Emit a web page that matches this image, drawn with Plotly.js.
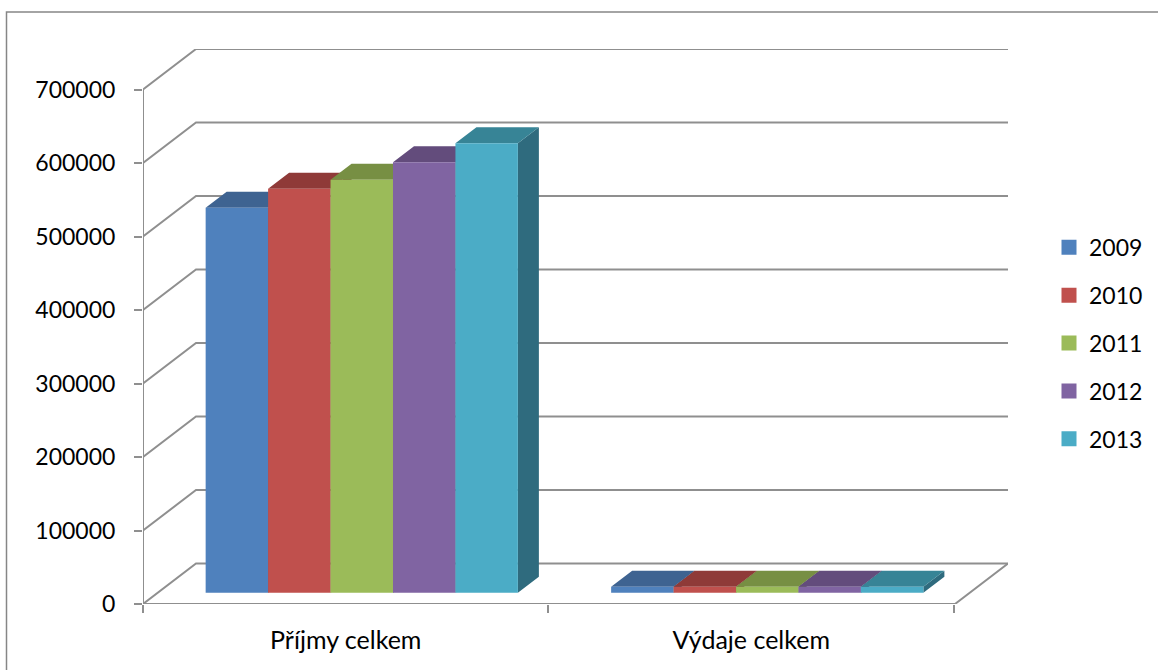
<!DOCTYPE html>
<html>
<head>
<meta charset="utf-8">
<script src="https://cdn.plot.ly/plotly-3.0.1.min.js"></script>
<style>html,body{margin:0;padding:0;background:#fff}#chart{width:1158px;height:670px}</style>
</head>
<body>
<div id="chart"></div>
<script>
// Income and expense totals per year
const categories = ['Příjmy celkem', 'Výdaje celkem'];
const years = ['2009', '2010', '2011', '2012', '2013'];
const values2009 = [523600, 8000];
const values2010 = [549500, 8000];
const values2011 = [561700, 8000];
const values2012 = [585600, 8000];
const values2013 = [611400, 8000];
const seriesValues = [values2009, values2010, values2011, values2012, values2013];

// Palette: front faces, top faces, side faces
const frontColors = ['#4f81bd', '#c0504d', '#9bbb59', '#8064a2', '#4bacc6'];
const topColors = ['#3e6391', '#8f3a38', '#778f43', '#634c7c', '#378496'];
const sideColors = ['#2f4d72', '#70302e', '#5d7034', '#4c3a60', '#2f6b7e'];
const gridColor = '#8f8f8f';
const yTicks = [0, 100000, 200000, 300000, 400000, 500000, 600000, 700000];

// Oblique projection, in axis units
const xMax = 2.1332, yMax = 755100;
const wallDx = 0.1307, wallDy = 55100;   // floor depth
const barDx = 0.0518, barDy = 21770;     // bar depth
const barLift = 15400;                   // bars stand slightly back on the floor
const barShift = 0.0395;                 // bars centre on the floor, not the front edge
const barGap = 0.23;
const barWidth = (1 - barGap) / years.length;

const font = 'Lato, "Open Sans", sans-serif';
const traces = [];

// Side wall, back wall and floor lines
const gridX = [], gridY = [];
yTicks.forEach(v => {
  gridX.push(0, wallDx, xMax, null);
  gridY.push(v, v + wallDy, v + wallDy, null);
});
gridX.push(0, 0, null, 0, xMax - wallDx, xMax);
gridY.push(0, yTicks[yTicks.length - 1], null, 0, 0, wallDy);
traces.push({type: 'scatter', mode: 'lines', x: gridX, y: gridY, cliponaxis: false,
  line: {color: gridColor, width: 2}, showlegend: false, hoverinfo: 'skip'});

// Extruded faces of every bar, computed from its value
function faces(build, colors) {
  years.forEach((year, s) => {
    const xs = [], ys = [];
    categories.forEach((c, k) => {
      const left = k + 0.5 + barShift - (years.length / 2 - s) * barWidth;
      const top = seriesValues[s][k] + barLift;
      build(left, left + barWidth, top).forEach(p => { xs.push(p[0]); ys.push(p[1]); });
      xs.push(null); ys.push(null);
    });
    traces.push({type: 'scatter', mode: 'lines', x: xs, y: ys, fill: 'toself', fillcolor: colors[s],
      line: {width: 0, color: colors[s]}, showlegend: false, hoverinfo: 'skip', cliponaxis: false});
  });
}
faces((l, r, t) => [[r, t], [r + barDx, t + barDy], [r + barDx, barLift + barDy], [r, barLift], [r, t]], sideColors);
faces((l, r, t) => [[l, t], [r, t], [r + barDx, t + barDy], [l + barDx, t + barDy], [l, t]], topColors);

// Front faces on the overlay axes so they hide the faces behind them
years.forEach((year, s) => {
  traces.push({type: 'bar', name: year, xaxis: 'x2', yaxis: 'y2',
    x: categories.map((c, k) => k + 0.5 + barShift),
    y: seriesValues[s], base: barLift, marker: {color: frontColors[s], line: {width: 0}},
    showlegend: false, hovertemplate: year + ': %{y}<extra></extra>'});
});

// Legend keys
years.forEach((year, s) => {
  traces.push({type: 'scatter', mode: 'markers', name: year, xaxis: 'x2', yaxis: 'y2',
    x: [null], y: [null], legendgroup: year,
    marker: {symbol: 'square', size: 15, color: frontColors[s]}, hoverinfo: 'skip'});
});

const layout = {
  width: 1158, height: 670,
  margin: {l: 143, r: 150, t: 49, b: 66, pad: 0, autoexpand: false},
  paper_bgcolor: '#ffffff', plot_bgcolor: 'rgba(0,0,0,0)',
  font: {family: font, size: 23, color: '#000000'},
  barmode: 'group', bargap: barGap, bargroupgap: 0,
  xaxis: {
    range: [0, xMax], showgrid: false, zeroline: false, showline: false, automargin: false,
    tickmode: 'array', tickvals: [0.5, 1.5], ticktext: categories, ticks: '',
    tickfont: {family: font, size: 25, color: '#000000'},
    ticklabelstandoff: 19,
    minor: {tickmode: 'array', tickvals: [0, 1, 2], ticks: 'outside', ticklen: 8, tickwidth: 2, tickcolor: gridColor, showgrid: false}
  },
  yaxis: {
    range: [0, yMax], showgrid: false, zeroline: false, showline: false, automargin: false,
    tickmode: 'array', tickvals: yTicks, ticktext: yTicks.map(String),
    ticks: 'outside', ticklen: 8, tickwidth: 2, tickcolor: gridColor,
    ticklabelstandoff: 14
  },
  xaxis2: {overlaying: 'x', anchor: 'y2', range: [0, xMax], visible: false},
  yaxis2: {overlaying: 'y', anchor: 'x2', range: [0, yMax], visible: false},
  legend: {
    x: 1.0474, xanchor: 'left', y: 0.6814, yanchor: 'top',
    traceorder: 'grouped', tracegroupgap: 15, bgcolor: 'rgba(0,0,0,0)',
    font: {family: font, size: 23, color: '#000000'}
  },
  showlegend: true,
  // Chart frame: only its top and left edges fall inside the page
  shapes: [{type: 'path', xref: 'paper', yref: 'paper', layer: 'below',
    path: 'M -0.1578,-0.1189 L -0.1578,1.0667 L 1.1734,1.0667',
    line: {color: '#868686', width: 1.5}}]
};

Plotly.newPlot('chart', traces, layout, {displayModeBar: false, responsive: false});
</script>
</body>
</html>
